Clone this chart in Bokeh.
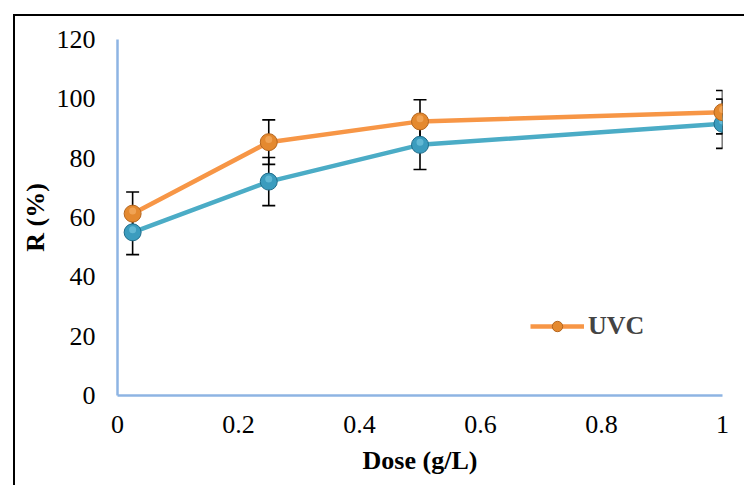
from bokeh.plotting import figure
from bokeh.models import (ColumnDataSource, Whisker, TeeHead, Legend, LegendItem,
                          FixedTicker, Range1d)
from bokeh.embed import file_html
from bokeh.resources import INLINE

# ---- data ----
dose = [0.025, 0.25, 0.5, 1.0]
r_uvc = [61.3, 85.4, 92.4, 95.5]
err_uvc = [7.3, 7.5, 7.3, 7.3]
r_other = [55.0, 72.1, 84.5, 91.6]
err_other = [7.5, 8.1, 8.3, 8.3]
x_ticks = [0, 0.2, 0.4, 0.6, 0.8, 1.0]
x_tick_labels = ["0", "0.2", "0.4", "0.6", "0.8", "1"]
y_ticks = [0, 20, 40, 60, 80, 100, 120]

SERIF = "Liberation Serif"
ORANGE_LINE = "#F79646"
ORANGE_MK = "#E4892F"
ORANGE_EDGE = "#B5661E"
BLUE_LINE = "#4BACC6"
BLUE_MK = "#3B9CBE"
BLUE_EDGE = "#1E6C8A"
AXIS = "#8EB4E3"

p = figure(width=731, height=471, output_backend="svg", toolbar_location=None,
           x_range=Range1d(0, 1), y_range=Range1d(0, 120),
           min_border_left=102, min_border_right=24, min_border_top=23,
           min_border_bottom=92)
p.margin = (14, 0, 0, 13)
p.styles = {"border-left": "2px solid black", "border-top": "2px solid black"}
p.outline_line_color = None
p.xgrid.visible = False
p.ygrid.visible = False
p.background_fill_color = "white"
p.border_fill_color = "white"

for ax in (p.xaxis[0], p.yaxis[0]):
    ax.axis_line_color = AXIS
    ax.axis_line_width = 2.5
    ax.major_tick_line_color = None
    ax.minor_tick_line_color = None
    ax.major_tick_out = 0
    ax.major_tick_in = 0
    ax.minor_tick_out = 0
    ax.major_label_text_font = SERIF
    ax.major_label_text_font_size = "26px"
    ax.major_label_text_color = "black"
    ax.axis_label_text_font = SERIF
    ax.axis_label_text_font_style = "bold"
    ax.axis_label_text_font_size = "26px"
    ax.axis_label_text_color = "black"

p.xaxis.ticker = FixedTicker(ticks=x_ticks)
p.xaxis.major_label_overrides = {t: l for t, l in zip(x_ticks, x_tick_labels)}
p.xaxis.major_label_standoff = 20
p.xaxis.axis_label = "Dose (g/L)"
p.xaxis.axis_label_standoff = 10
p.yaxis.ticker = FixedTicker(ticks=y_ticks)
p.yaxis.major_label_standoff = 22
p.yaxis.axis_label = "R (%)"
p.yaxis.axis_label_standoff = 4

src_o = ColumnDataSource(dict(x=dose, y=r_uvc,
                              lo=[a - b for a, b in zip(r_uvc, err_uvc)],
                              hi=[a + b for a, b in zip(r_uvc, err_uvc)],
                              yh=[a + 0.9 for a in r_uvc]))
src_b = ColumnDataSource(dict(x=dose, y=r_other,
                              lo=[a - b for a, b in zip(r_other, err_other)],
                              hi=[a + b for a, b in zip(r_other, err_other)],
                              yh=[a + 0.9 for a in r_other]))

for src in (src_b, src_o):
    w = Whisker(source=src, base="x", lower="lo", upper="hi",
                line_color="black", line_width=1.6,
                upper_head=TeeHead(size=13, line_color="black", line_width=1.6),
                lower_head=TeeHead(size=13, line_color="black", line_width=1.6))
    p.add_layout(w)

lb = p.line("x", "y", source=src_b, line_color=BLUE_LINE, line_width=4.5)
sb = p.scatter("x", "y", source=src_b, size=17, fill_color=BLUE_MK,
               line_color=BLUE_EDGE, line_width=1)
p.scatter("x", "yh", source=src_b, size=7, fill_color="#7CCBE3",
          line_color=None, fill_alpha=0.6)

lo_ = p.line("x", "y", source=src_o, line_color=ORANGE_LINE, line_width=4.5)
so = p.scatter("x", "y", source=src_o, size=17, fill_color=ORANGE_MK,
               line_color=ORANGE_EDGE, line_width=1)
p.scatter("x", "yh", source=src_o, size=7, fill_color="#F8B46E",
          line_color=None, fill_alpha=0.6)

legend = Legend(items=[LegendItem(label="UVC", renderers=[lo_, so])],
                location=(413, 54), glyph_width=54, glyph_height=26,
                label_text_font=SERIF, label_text_font_style="bold",
                label_text_font_size="26px", label_standoff=4,
                border_line_color=None, background_fill_alpha=0,
                padding=0, margin=0)
p.add_layout(legend, "center")

open("out.html", "w").write(file_html(p, INLINE))
